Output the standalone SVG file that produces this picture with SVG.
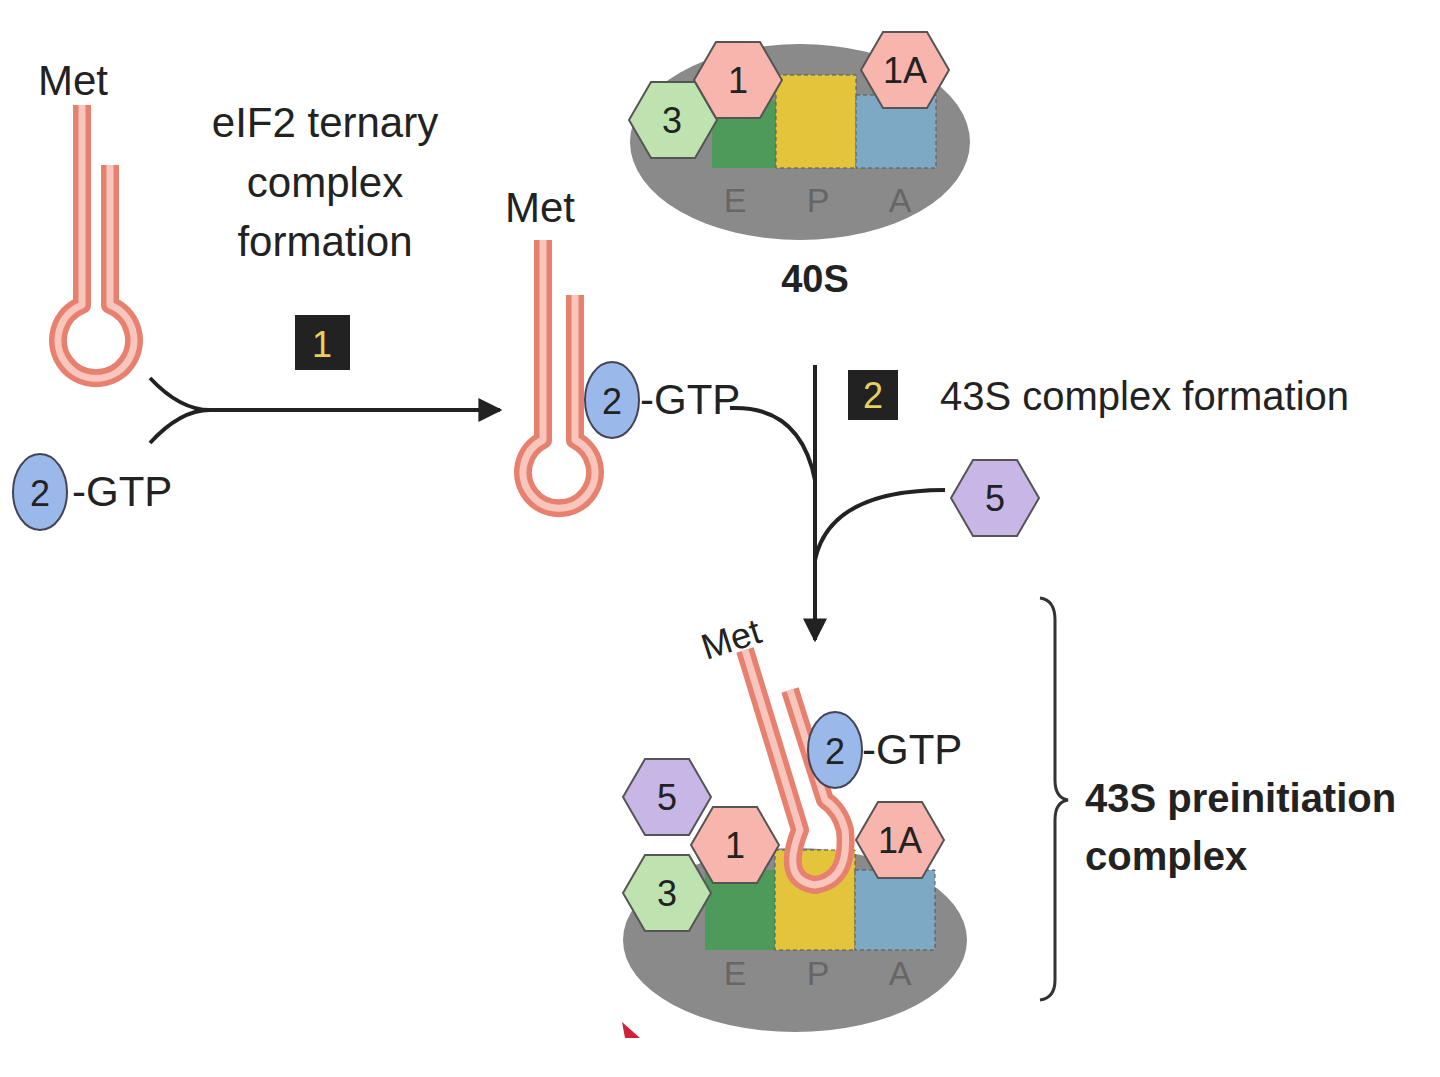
<svg xmlns="http://www.w3.org/2000/svg" width="1440" height="1077" viewBox="0 0 1440 1077">
<defs>
<style>
text{font-family:"Liberation Sans",Arial,sans-serif;fill:#222}
.lbl{font-size:42px}
.hex{stroke:#555;stroke-width:2}
.pink{fill:#f7b5ad}.green{fill:#bfe3b0}.purple{fill:#c7b6e6}
.trna-o{fill:none;stroke:#e8806f;stroke-width:18;stroke-linejoin:round}
.trna-i{fill:none;stroke:#f9c6bd;stroke-width:7;stroke-linejoin:round}
.oval{fill:#9ab8ea;stroke:#445;stroke-width:2}
.line{fill:none;stroke:#222;stroke-width:4}
.ht{font-size:36px;text-anchor:middle}
.epa{font-size:34px;fill:#666;text-anchor:middle}
</style>
<marker id="ah" viewBox="0 0 10 10" refX="9" refY="5" markerWidth="6" markerHeight="6" orient="auto"><path d="M0,0L10,5L0,10z" fill="#222"/></marker>
<symbol id="hexs" viewBox="-45 -40 90 80" overflow="visible"><polygon points="-44,0 -22,-38 22,-38 44,0 22,38 -22,38"/></symbol>
</defs>
<rect width="1440" height="1077" fill="#fff"/>

<g id="trna1">
<text x="38" y="95" class="lbl">Met</text>
<path class="trna-o" d="M82,105V305A38,38 0 1 0 110,305V165"/>
<path class="trna-i" d="M82,105V305A38,38 0 1 0 110,305V165"/>
</g>
<g id="gtp1">
<ellipse class="oval" cx="40" cy="492" rx="27" ry="38"/>
<text x="40" y="506" class="ht">2</text>
<text x="72" y="506" class="lbl">-GTP</text>
</g>
<g id="label1">
<text x="325" y="137" class="lbl" text-anchor="middle">eIF2 ternary</text>
<text x="325" y="197" class="lbl" text-anchor="middle">complex</text>
<text x="325" y="256" class="lbl" text-anchor="middle">formation</text>
<rect x="295" y="315" width="55" height="55" fill="#222"/>
<text x="322" y="357" class="ht" fill="#e8d060" style="fill:#e8d060">1</text>
</g>
<g id="trna2">
<text x="505" y="222" class="lbl">Met</text>
<path class="trna-o" d="M543,240V440A36,36 0 1 0 575,440V295"/>
<path class="trna-i" d="M543,240V440A36,36 0 1 0 575,440V295"/>
<ellipse class="oval" cx="612" cy="400" rx="27" ry="38"/>
<text x="612" y="414" class="ht">2</text>
<text x="640" y="414" class="lbl">-GTP</text>
</g>
<g id="ribo40S">
<ellipse cx="800" cy="142" rx="170" ry="98" fill="#8a8a8a"/>
<rect x="712" y="100" width="64" height="68" fill="#4e9a5a"/>
<rect x="776" y="75" width="80" height="93" fill="#e3c43a" stroke="#555" stroke-dasharray="4 3"/>
<rect x="856" y="95" width="80" height="73" fill="#7ea9c4" stroke="#555" stroke-dasharray="4 3"/>
<use href="#hexs" x="628" y="80" width="90" height="80" class="hex green"/>
<text x="672" y="133" class="ht">3</text>
<use href="#hexs" x="693" y="40" width="90" height="80" class="hex pink"/>
<text x="738" y="93" class="ht">1</text>
<use href="#hexs" x="860" y="30" width="90" height="80" class="hex pink"/>
<text x="905" y="83" class="ht">1A</text>
<text x="735" y="212" class="epa">E</text><text x="818" y="212" class="epa">P</text><text x="900" y="212" class="epa">A</text>
<text x="815" y="292" class="lbl" font-weight="bold" text-anchor="middle" style="font-size:38px">40S</text>
</g>
<g id="label2">
<rect x="848" y="370" width="50" height="50" fill="#222"/>
<text x="873" y="408" class="ht" style="fill:#e8d060">2</text>
<text x="940" y="410" style="font-size:40px">43S complex formation</text>
</g>
<g id="eif5">
<use href="#hexs" x="950" y="458" width="90" height="80" class="hex purple"/>
<text x="995" y="511" class="ht">5</text>
</g>
<g id="connectors">
<path class="line" d="M150,378Q180,410 210,410M150,443Q180,410 210,410H500" marker-end="url(#ah)"/>
<path class="line" d="M815,365V640" marker-end="url(#ah)"/>
<path class="line" d="M730,408Q800,405 815,480"/>
<path class="line" d="M945,490Q830,490 815,560"/>
</g>
<g id="complex43S">
<ellipse cx="795" cy="940" rx="172" ry="92" fill="#8a8a8a"/>
<rect x="705" y="870" width="70" height="80" fill="#4e9a5a"/>
<rect x="775" y="850" width="80" height="100" fill="#e3c43a" stroke="#555" stroke-dasharray="4 3"/>
<rect x="855" y="870" width="80" height="80" fill="#7ea9c4" stroke="#555" stroke-dasharray="4 3"/>
<use href="#hexs" x="622" y="853" width="90" height="80" class="hex green"/>
<text x="667" y="906" class="ht">3</text>
<use href="#hexs" x="690" y="805" width="90" height="80" class="hex pink"/>
<text x="735" y="858" class="ht">1</text>
<use href="#hexs" x="622" y="757" width="90" height="80" class="hex purple"/>
<text x="667" y="810" class="ht">5</text>
<use href="#hexs" x="855" y="800" width="90" height="80" class="hex pink"/>
<text x="900" y="853" class="ht">1A</text>
<path class="trna-o" d="M745,650L800,830Q780,880 815,885Q850,880 845,830Q840,810 825,800L790,690"/>
<path class="trna-i" d="M745,650L800,830Q780,880 815,885Q850,880 845,830Q840,810 825,800L790,690"/>
<text x="700" y="650" class="lbl" transform="rotate(-18 735 635)" style="font-size:36px">Met</text>
<ellipse class="oval" cx="835" cy="750" rx="27" ry="38"/>
<text x="835" y="764" class="ht">2</text>
<text x="862" y="764" class="lbl">-GTP</text>
<text x="735" y="985" class="epa">E</text><text x="818" y="985" class="epa">P</text><text x="900" y="985" class="epa">A</text>
</g>
<g id="brace">
<path d="M1040,598Q1055,600 1055,620V780Q1055,798 1068,800Q1055,802 1055,820V980Q1055,998 1040,1000" fill="none" stroke="#333" stroke-width="3"/>
<text x="1085" y="812" class="lbl" font-weight="bold" style="font-size:40px">43S preinitiation</text>
<text x="1085" y="870" class="lbl" font-weight="bold" style="font-size:40px">complex</text>
</g>
<path d="M622,1022L640,1038H625z" fill="#d0203a"/>
</svg>
